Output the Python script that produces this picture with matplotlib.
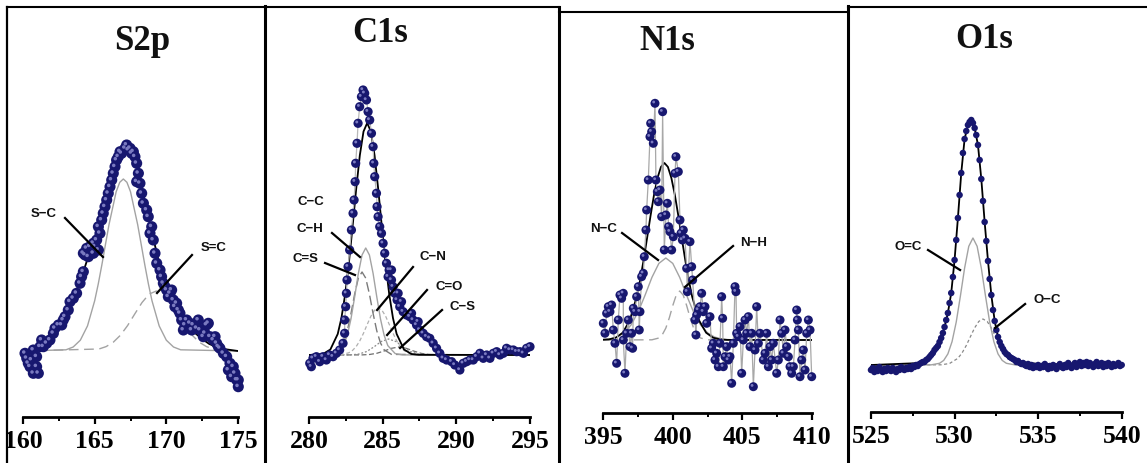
import numpy as np
import matplotlib
matplotlib.use("Agg")
import matplotlib.pyplot as plt
from matplotlib.lines import Line2D
from matplotlib.ticker import MultipleLocator
import matplotlib.transforms as mtransforms

# ---------------- data (binding energy in eV, intensity in a.u.) ----------------
titles = ["S2p", "C1s", "N1s", "O1s"]

# S2p
s2p_x = [160.14, 160.26, 160.37, 160.49, 160.60, 160.72, 160.72, 160.95, 160.95, 161.07,
         161.19, 161.30, 161.42, 161.65, 161.88, 162.12, 162.23, 162.47, 162.70, 162.81,
         162.93, 163.16, 163.28, 163.51, 163.74, 163.98, 164.09, 164.21, 164.21, 164.33,
         164.44, 164.56, 164.67, 164.91, 164.91, 165.02, 165.14, 165.26, 165.26, 165.37,
         165.49, 165.60, 165.72, 165.84, 165.95, 166.07, 166.19, 166.30, 166.42, 166.53,
         166.65, 166.77, 166.88, 167.12, 167.23, 167.35, 167.47, 167.58, 167.70, 167.81,
         167.93, 167.93, 168.05, 168.16, 168.28, 168.40, 168.63, 168.74, 168.86, 168.98,
         169.09, 169.21, 169.33, 169.56, 169.67, 169.79, 169.91, 170.02, 170.14, 170.26,
         170.37, 170.49, 170.60, 170.72, 170.84, 170.95, 171.07, 171.19, 171.30, 171.42,
         171.65, 171.77, 171.88, 172.12, 172.23, 172.35, 172.58, 172.70, 172.81, 172.93,
         173.05, 173.28, 173.40, 173.51, 173.63, 173.74, 173.98, 174.21, 174.33, 174.44,
         174.56, 174.67, 174.79, 174.91, 175.02, 175.02]
s2p_y = [-2.3, -7.3, -12.3, -15.7, -9.0, 1.0, -22.3, -15.7, -5.7, -22.3,
         4.3, 11.0, 4.3, 7.7, 11.0, 17.7, 22.7, 26.0, 26.0, 31.0,
         34.3, 41.0, 49.3, 52.7, 57.7, 67.7, 74.3, 79.3, 97.7, 96.0,
         102.7, 94.3, 104.3, 107.7, 97.7, 104.3, 111.0, 101.0, 124.3, 117.7,
         131.0, 137.7, 144.3, 151.0, 157.7, 164.3, 171.0, 177.7, 184.3, 191.0,
         194.3, 199.3, 197.7, 202.7, 206.0, 201.0, 202.7, 197.7, 199.3, 194.3,
         187.7, 169.3, 177.7, 167.7, 157.7, 147.7, 141.0, 134.3, 117.7, 124.3,
         111.0, 97.7, 87.7, 81.0, 74.3, 67.7, 64.3, 61.0, 54.3, 57.7,
         61.0, 51.0, 44.3, 47.7, 41.0, 37.7, 31.0, 21.0, 26.0, 31.0,
         27.7, 21.0, 26.0, 22.7, 31.0, 21.0, 14.3, 17.7, 26.0, 27.7,
         14.3, 11.0, 14.3, 7.7, 4.3, 2.7, -2.3, -5.7, -19.0, -12.3,
         -25.7, -15.7, -22.3, -29.0, -35.7, -29.0]
s2p_fit_x = [160.0, 161.0, 161.5, 162.0, 162.5, 163.0, 163.5, 164.0, 164.5, 165.0, 165.5,
             166.0, 166.5, 166.75, 167.0, 167.2, 167.5, 167.75, 168.0, 168.5, 169.0, 169.5,
             170.0, 170.5, 171.0, 171.5, 172.0, 172.5, 173.0, 173.5, 174.0, 174.5, 175.0]
s2p_fit_y = [0, 1, 4, 12, 24, 38, 53, 70, 92, 113, 137,
             163, 187, 195, 200, 201, 198, 191, 182, 150, 118, 88,
             65, 48, 36, 26, 18, 12, 7, 4, 2, 1, 0]
s2p_sc_x = [160, 163, 163.5, 164, 164.5, 165, 165.25, 165.5, 165.75, 166, 166.5, 166.75, 167,
            167.25, 167.5, 168, 168.25, 168.5, 168.75, 169, 169.5, 170, 170.5, 171, 175]
s2p_sc_y = [0, 1.2, 4.0, 10.8, 25.1, 50.2, 67, 86, 106.3, 126.4, 159.3, 168.7, 172,
            168.7, 159.3, 126.4, 106.3, 86, 67, 50.2, 25.1, 10.8, 4.0, 1.2, 0]
s2p_seqc_x = [160, 165.3, 165.8, 166.3, 166.8, 167.3, 167.8, 168.3, 168.8, 169.3, 169.8,
              170.3, 170.8, 171.3, 171.8, 172.3, 172.8, 173.3, 174.3, 175]
s2p_seqc_y = [0, 2.0, 4.4, 8.8, 15.8, 25.5, 37.1, 48.4, 56.9, 60, 56.9,
              48.4, 37.1, 25.5, 15.8, 8.8, 4.4, 2.0, 0.3, 0]

# C1s
c1s_x = [280.05, 280.16, 280.27, 280.50, 280.73, 280.95, 281.18, 281.40, 281.63, 281.86,
         282.08, 282.31, 282.42, 282.42, 282.49, 282.54, 282.58, 282.65, 282.76, 282.88,
         282.99, 283.06, 283.13, 283.17, 283.26, 283.33, 283.44, 283.56, 283.67, 283.78,
         283.90, 284.01, 284.12, 284.24, 284.35, 284.40, 284.46, 284.58, 284.62, 284.69,
         284.80, 284.92, 285.03, 285.14, 285.26, 285.37, 285.44, 285.60, 285.60, 285.71,
         285.82, 285.98, 286.05, 286.16, 286.28, 286.39, 286.62, 286.84, 286.96, 287.07,
         287.30, 287.41, 287.52, 287.75, 287.98, 288.20, 288.43, 288.66, 288.88, 289.11,
         289.34, 289.68, 289.90, 290.24, 290.47, 290.70, 290.92, 291.15, 291.38, 291.60,
         291.83, 292.06, 292.28, 292.51, 292.74, 292.96, 293.19, 293.41, 293.64, 293.87,
         294.09, 294.32, 294.55, 294.77, 295.00]
c1s_y = [-8.3, -11.7, -3.3, -1.7, -6.7, -1.7, -5.0, 0.0, -1.7, 1.7,
         5.0, 11.7, 21.7, 35.0, 48.3, 61.7, 75.0, 88.3, 105.0, 125.0,
         141.7, 155.0, 173.3, 191.7, 211.7, 231.7, 248.3, 258.3, 265.0, 261.7,
         255.0, 243.3, 235.0, 221.7, 208.3, 191.7, 178.3, 161.7, 148.3, 138.3,
         128.3, 121.7, 111.7, 101.7, 91.7, 78.3, 85.0, 75.0, 85.0, 68.3,
         61.7, 55.0, 61.7, 48.3, 53.3, 43.3, 40.0, 38.3, 41.7, 35.0,
         30.0, 33.3, 25.0, 21.7, 18.3, 16.7, 11.7, 6.7, 1.7, -3.3,
         -5.0, -6.7, -10.0, -15.0, -8.3, -6.7, -5.0, -5.0, -1.7, 1.7,
         -3.3, 0.0, -3.3, 1.7, 3.3, 0.0, 1.7, 6.7, 5.0, 5.0,
         3.3, 3.3, 1.7, 6.7, 8.3]
c1s_fit_x = [280, 280.95, 281.45, 281.95, 282.2, 282.45, 282.7, 282.95, 283.2, 283.45, 283.7,
             283.95, 284.2, 284.45, 284.7, 284.95, 285.2, 285.45, 285.7, 285.95, 286.45,
             286.95, 287.45, 295]
c1s_fit_y = [0, 1.0, 5.5, 21.0, 36.9, 60.2, 90.9, 127.3, 165.6, 199.7, 223.5,
             232, 223.5, 199.7, 165.6, 127.3, 90.9, 60.2, 36.9, 21.0, 5.5,
             1.0, 0.2, 0]
c1s_ch_x = [280, 281.85, 282.35, 282.6, 282.85, 283.1, 283.35, 283.6, 283.85, 284.1, 284.35,
            284.6, 284.85, 285.1, 285.35, 285.85, 286.35, 295]
c1s_ch_y = [0, 1.4, 9.4, 19.7, 36.2, 58.2, 81.6, 100, 107, 100, 81.6,
            58.2, 36.2, 19.7, 9.4, 1.4, 0.1, 0]
c1s_cs2_x = [280, 281.6, 282.1, 282.35, 282.6, 282.85, 283.1, 283.35, 283.6, 283.85, 284.1,
             284.35, 284.6, 284.85, 285.1, 285.6, 295]
c1s_cs2_y = [0, 0.6, 5.2, 12.1, 24.2, 41.5, 61, 76.9, 83, 76.9, 61,
             41.5, 24.2, 12.1, 5.2, 0.6, 0]
c1s_cn_x = [280, 282.2, 282.7, 282.95, 283.2, 283.45, 283.7, 283.95, 284.2, 284.45, 284.7,
            284.95, 285.2, 285.45, 285.7, 285.95, 286.2, 286.45, 286.7, 287.2, 295]
c1s_cn_y = [0, 0.4, 2.2, 4.5, 8.4, 14.2, 21.8, 30.5, 38.8, 44.8, 47,
            44.8, 38.8, 30.5, 21.8, 14.2, 8.4, 4.5, 2.2, 0.4, 0]
c1s_co_x = [280, 282.9, 283.4, 283.9, 284.4, 284.9, 285.4, 285.9, 286.4, 286.9, 287.4, 287.9, 295]
c1s_co_y = [0, 0.2, 1, 3.4, 8, 13.5, 16, 13.5, 8, 3.4, 1, 0.2, 0]
c1s_cs_x = [280, 283.6, 284.1, 284.6, 285.1, 285.6, 286.1, 286.6, 287.1, 287.6, 288.1, 288.6, 295]
c1s_cs_y = [0, 0.1, 0.5, 1.7, 4, 6.7, 8, 6.7, 4, 1.7, 0.5, 0.1, 0]

# N1s
n1s_x = [395.00, 395.12, 395.24, 395.36, 395.48, 395.60, 395.72, 395.84, 395.96, 396.08,
         396.20, 396.32, 396.44, 396.44, 396.56, 396.68, 396.80, 396.92, 397.04, 397.11,
         397.16, 397.28, 397.40, 397.52, 397.59, 397.64, 397.76, 397.88, 397.95, 398.07,
         398.12, 398.24, 398.36, 398.41, 398.48, 398.60, 398.72, 398.79, 398.89, 398.96,
         399.08, 399.20, 399.27, 399.39, 399.51, 399.61, 399.70, 399.80, 399.92, 400.04,
         400.16, 400.23, 400.40, 400.52, 400.59, 400.69, 400.76, 400.88, 401.00, 401.05,
         401.24, 401.36, 401.43, 401.60, 401.67, 401.72, 401.84, 401.96, 402.08, 402.20,
         402.32, 402.44, 402.68, 402.80, 402.92, 403.04, 403.16, 403.28, 403.40, 403.52,
         403.59, 403.64, 403.76, 403.88, 404.00, 404.12, 404.24, 404.36, 404.48, 404.55,
         404.60, 404.72, 404.84, 404.96, 405.08, 405.20, 405.32, 405.44, 405.56, 405.68,
         405.80, 405.92, 406.04, 406.16, 406.28, 406.52, 406.64, 406.76, 406.88, 407.00,
         407.12, 407.24, 407.48, 407.60, 407.72, 407.84, 407.96, 408.08, 408.20, 408.32,
         408.44, 408.56, 408.68, 408.80, 408.92, 408.97, 409.04, 409.16, 409.28, 409.40,
         409.52, 409.64, 409.76, 409.88, 410.00]
n1s_y = [16.7, 6.7, 26.7, 33.3, 28.3, 35.0, 10.0, -3.3, -23.3, 20.0,
         45.0, 41.7, 46.7, 0.0, -33.3, 6.7, 20.0, -6.7, 6.7, -8.3,
         31.7, 28.3, 43.3, 53.3, 10.0, 28.3, 63.3, 66.7, 83.3, 110.0,
         130.0, 160.0, 203.3, 216.7, 208.3, 196.7, 236.7, 160.0, 148.3, 138.3,
         150.0, 123.3, 228.3, 90.0, 125.0, 136.7, 113.3, 108.3, 90.0, 103.3,
         166.7, 183.3, 168.3, 120.0, 106.7, 100.0, 110.0, 101.7, 71.7, 48.3,
         98.3, 73.3, 60.0, 20.0, 5.0, 25.0, 30.0, 33.3, 46.7, 28.3,
         33.3, 16.7, 23.3, -8.3, -3.3, -20.0, -13.3, -26.7, -3.3, 43.3,
         21.7, -26.7, -16.7, -6.7, -20.0, -16.7, -43.3, -3.3, 53.3, 48.3,
         6.7, 3.3, 13.3, -33.3, 0.0, 20.0, 6.7, 23.3, -6.7, 6.7,
         -46.7, -10.0, 33.3, -3.3, 6.7, -20.0, -13.3, 6.7, -26.7, -6.7,
         -20.0, -3.3, -33.3, -20.0, 20.0, 6.7, -13.3, 10.0, -6.7, -16.7,
         -26.7, -33.3, -26.7, 0.0, 30.0, 20.0, 10.0, -36.7, -20.0, -10.0,
         -30.0, 6.7, 20.0, 10.0, -36.7]
n1s_fit_x = [395, 395.4, 395.9, 396.4, 396.9, 397.4, 397.65, 397.9, 398.15, 398.4, 398.65,
             398.9, 399.15, 399.4, 399.65, 399.9, 400.15, 400.4, 400.65, 400.9, 401.15,
             401.4, 401.9, 402.4, 402.9, 403.4, 403.9, 410]
n1s_fit_y = [0.3, 0.6, 2.3, 7.3, 19.4, 43, 59.9, 79.8, 101.8, 124.2, 145.1,
             162, 173.1, 177, 173.1, 162, 145.1, 124.2, 101.8, 79.8, 59.9,
             43, 19.4, 7.3, 2.3, 0.6, 0.1, 0]
n1s_nc_x = [395, 395.5, 396, 396.5, 397, 397.5, 398, 398.5, 399, 399.5, 400,
            400.5, 401, 401.5, 402, 402.5, 403, 403.5, 404, 404.5, 410]
n1s_nc_y = [0.4, 1.1, 3.0, 7.2, 15.1, 27.8, 44.6, 62.6, 76.6, 82, 76.6,
            62.6, 44.6, 27.8, 15.1, 7.2, 3.0, 1.1, 0.4, 0.1, 0]
n1s_nh_x = [395, 398.5, 399, 399.25, 399.5, 399.75, 400, 400.25, 400.5, 400.75, 401,
            401.25, 401.5, 401.75, 402, 402.5, 410]
n1s_nh_y = [0, 0.2, 2.0, 5.4, 11.9, 22.1, 34.4, 44.9, 49, 44.9, 34.4,
            22.1, 11.9, 5.4, 2.0, 0.2, 0]

# O1s (0.1 eV steps)
o1s_x = [525.0, 525.1, 525.2, 525.3, 525.4, 525.5, 525.6, 525.7, 525.8, 525.9,
         526.0, 526.1, 526.2, 526.3, 526.4, 526.5, 526.6, 526.7, 526.8, 526.9,
         527.0, 527.1, 527.2, 527.3, 527.4, 527.5, 527.6, 527.7, 527.8, 527.9,
         528.0, 528.1, 528.2, 528.3, 528.4, 528.5, 528.6, 528.7, 528.8, 528.9,
         529.0, 529.1, 529.2, 529.3, 529.4, 529.5, 529.6, 529.7, 529.8, 529.9,
         530.0, 530.1, 530.2, 530.3, 530.4, 530.5, 530.6, 530.7, 530.8, 530.9,
         531.0, 531.1, 531.2, 531.3, 531.4, 531.5, 531.6, 531.7, 531.8, 531.9,
         532.0, 532.1, 532.2, 532.3, 532.4, 532.5, 532.6, 532.7, 532.8, 532.9,
         533.0, 533.1, 533.2, 533.3, 533.4, 533.5, 533.6, 533.7, 533.8, 533.9,
         534.0, 534.1, 534.2, 534.3, 534.4, 534.5, 534.6, 534.7, 534.8, 534.9,
         535.0, 535.1, 535.2, 535.3, 535.4, 535.5, 535.6, 535.7, 535.8, 535.9,
         536.0, 536.1, 536.2, 536.3, 536.4, 536.5, 536.6, 536.7, 536.8, 536.9,
         537.0, 537.1, 537.2, 537.3, 537.4, 537.5, 537.6, 537.7, 537.8, 537.9,
         538.0, 538.1, 538.2, 538.3, 538.4, 538.5, 538.6, 538.7, 538.8, 538.9,
         539.0, 539.1, 539.2, 539.3, 539.4, 539.5, 539.6, 539.7, 539.8, 539.9,
         540.0]
o1s_y = [-5, -3, -7, -4, -6, -2, -5, -7, -4, -6,
         -3, -5, -6, -3, -5, -7, -4, -5, -2, -4,
         -5, -3, -4, -2, -4, -1, -2, 0, -1, 1,
         2, 3, 3, 5, 6, 8, 10, 12, 15, 17,
         19, 23, 27, 32, 38, 45, 52, 62, 72, 88,
         105, 125, 147, 170, 192, 212, 226, 234, 240, 243,
         245, 242, 237, 230, 220, 205, 186, 164, 143, 124,
         104, 86, 70, 55, 44, 35, 28, 23, 19, 16,
         13, 11, 10, 8, 7, 6, 5, 3, 4, 2,
         1, 2, 0, -1, 1, -2, 0, -3, -1, -2,
         0, -3, -1, -2, 1, -2, -4, -1, -3, 0,
         -2, -4, -1, 1, -2, -3, 0, -2, 2, -1,
         -3, 0, 2, -2, 1, 3, -1, 2, 0, 3,
         -1, 2, 0, -2, 1, 3, -1, 0, 2, -2,
         1, -1, 2, 0, -2, 1, -1, 0, 2, -1,
         0]
o1s_fit_x = [525, 528.0, 528.3, 528.6, 528.9, 529.2, 529.4, 529.6, 529.8, 530.0, 530.2,
             530.4, 530.6, 530.8, 531.0, 531.2, 531.4, 531.6, 531.8, 532.0, 532.2,
             532.4, 532.6, 532.8, 533.0, 533.3, 533.6, 534.0, 535.0, 540]
o1s_fit_y = [0, 2, 5, 11, 17, 27, 38, 52, 72, 105, 147,
             192, 226, 240, 244, 237, 220, 186, 143, 104, 70,
             44, 28, 19, 13, 9, 6, 3, 1, 0]
o1s_oc2_x = [525, 528.6, 529.1, 529.35, 529.6, 529.85, 530.1, 530.35, 530.6, 530.85, 531.1,
             531.35, 531.6, 531.85, 532.1, 532.35, 532.6, 532.85, 533.1, 533.6, 540]
o1s_oc2_y = [0, 0.15, 1.7, 4.6, 11.1, 23.4, 43, 69.1, 96.9, 118.7, 127,
             118.7, 96.9, 69.1, 43, 23.4, 11.1, 4.6, 1.7, 0.15, 0]
o1s_oc_x = [525, 529.2, 529.7, 530.2, 530.45, 530.7, 530.95, 531.2, 531.45, 531.7, 531.95,
            532.2, 532.45, 532.7, 532.95, 533.2, 533.7, 534.2, 540]
o1s_oc_y = [0, 0.2, 1.5, 6.7, 12.1, 19.5, 28.4, 37.1, 43.6, 46, 43.6,
            37.1, 28.4, 19.5, 12.1, 6.7, 1.5, 0.2, 0]

tick_major = 5
tick_minor = 2.5

# ---------------- figure ----------------
W, H = 1147, 463
fig = plt.figure(figsize=(W / 100, H / 100), dpi=100)
fig.patch.set_facecolor("white")

def fx(px):
    return px / W

def fy(py):
    return 1 - py / H

def seg(x0, y0, x1, y1, lw):
    fig.add_artist(Line2D([fx(x0), fx(x1)], [fy(y0), fy(y1)], transform=fig.transFigure,
                          color="black", lw=lw, solid_capstyle="projecting"))

# panel frames
seg(7.5, 7, 7.5, 463, 1.6)
seg(7.5, 7, 264.5, 7, 1.5)
seg(264.5, 6, 264.5, 463, 2.2)
seg(264.5, 6.5, 558.5, 6.5, 1.5)
seg(558.5, 6.5, 558.5, 463, 2.2)
seg(558.5, 12, 847.5, 12, 1.5)
seg(847.5, 6, 847.5, 463, 2.2)
seg(847.5, 6.5, 1147, 6.5, 1.5)

SERIF = ["Liberation Serif", "DejaVu Serif"]
SANS = ["Liberation Sans", "DejaVu Sans"]
DOT = "#17176f"
HL = "#7a7ac0"
GRAY = "#a3a3a3"

def make_axes(px0, px1, axis_py, base_py, top_py, xlim):
    ax = fig.add_axes([fx(px0), fy(axis_py), (px1 - px0) / W, (axis_py - top_py) / H])
    ax.set_xlim(*xlim)
    ax.set_ylim(-(axis_py - base_py), base_py - top_py)
    for s in ("left", "right", "top"):
        ax.spines[s].set_visible(False)
    ax.spines["bottom"].set_linewidth(2.0)
    ax.set_yticks([])
    ax.xaxis.set_major_locator(MultipleLocator(tick_major))
    ax.xaxis.set_minor_locator(MultipleLocator(tick_minor))
    ax.tick_params(axis="x", which="major", direction="out", length=5, width=1.6, pad=4.5,
                   labelsize=18.5)
    ax.tick_params(axis="x", which="minor", direction="out", length=3, width=1.4)
    for lab in ax.get_xticklabels():
        lab.set_fontfamily(SERIF)
        lab.set_fontweight("bold")
    ax.patch.set_alpha(0)
    return ax

def points(ax, x, y, size, line=None, hl=True):
    order = np.argsort(x, kind="stable")
    xs = np.asarray(x)[order]
    ys = np.asarray(y)[order]
    if line is not None:
        ax.plot(xs, ys, color=line, lw=0.9, zorder=2.6, clip_on=False)
    ax.scatter(xs, ys, s=size, c=DOT, edgecolors="none", zorder=3, clip_on=False)
    if hl:
        off = mtransforms.offset_copy(ax.transData, fig=fig, x=-1.3, y=1.3, units="dots")
        ax.scatter(xs, ys, s=size * 0.1, c=HL, edgecolors="none", zorder=3.1,
                   transform=off, clip_on=False)

def label(ax, text, xy, p0=None, p1=None):
    ax.text(xy[0], xy[1], text, ha="center", va="center", fontsize=9.5, fontweight="bold",
            family=SANS, color="#111111", zorder=6)
    if p0 is not None:
        ax.plot([p0[0], p1[0]], [p0[1], p1[1]], color="black", lw=1.6, zorder=6, clip_on=False)

# ---- S2p ----
ax1 = make_axes(23, 238, 417, 351, 80, (160, 175))
ax1.plot(s2p_sc_x, s2p_sc_y, color=GRAY, lw=1.0, zorder=2)
ax1.plot(s2p_seqc_x, s2p_seqc_y, color=GRAY, lw=1.0, ls=(0, (7, 4)), zorder=2)
ax1.plot(s2p_fit_x, s2p_fit_y, color="black", lw=1.3, zorder=2.5)
points(ax1, s2p_x, s2p_y, 64)
label(ax1, "S\u2212C", (161.47, 137), (162.93, 133), (165.58, 94))
label(ax1, "S=C", (173.29, 103), (171.79, 96), (169.35, 58))

# ---- C1s ----
ax2 = make_axes(309, 530, 417, 355, 80, (280, 295))
ax2.plot(c1s_cs_x, c1s_cs_y, color="#6e6e6e", lw=0.9, ls=(0, (4, 2)), zorder=2)
ax2.plot(c1s_co_x, c1s_co_y, color="#8a8a8a", lw=0.9, ls=(0, (1.5, 1.5)), zorder=2)
ax2.plot(c1s_cn_x, c1s_cn_y, color="#b0b0b0", lw=0.9, ls=(0, (3, 2)), zorder=2)
ax2.plot(c1s_cs2_x, c1s_cs2_y, color="#7a7a7a", lw=1.0, ls=(0, (7, 3)), zorder=2)
ax2.plot(c1s_ch_x, c1s_ch_y, color=GRAY, lw=1.0, zorder=2)
ax2.plot(c1s_fit_x, c1s_fit_y, color="black", lw=1.3, zorder=2.5)
points(ax2, c1s_x, c1s_y, 44, line="#b8b8b8")
label(ax2, "C\u2212C", (280.10, 153))
label(ax2, "C\u2212H", (280.07, 125.5), (281.56, 122), (283.46, 98))
label(ax2, "C=S", (279.76, 96), (281.09, 92), (283.12, 80))
label(ax2, "C\u2212N", (288.42, 98.5), (287.06, 88), (284.62, 45))
label(ax2, "C=O", (289.50, 67.5), (288.01, 65), (285.30, 20))
label(ax2, "C\u2212S", (290.42, 47.5), (289.03, 45), (286.18, 7))

# ---- N1s ----
ax3 = make_axes(603.3, 811.7, 413, 340, 80, (395, 410))
ax3.plot(n1s_nh_x, n1s_nh_y, color=GRAY, lw=1.0, ls=(0, (7, 4)), zorder=2)
ax3.plot(n1s_nc_x, n1s_nc_y, color=GRAY, lw=1.0, zorder=2)
ax3.plot(n1s_fit_x, n1s_fit_y, color="black", lw=1.3, zorder=2.5)
points(ax3, n1s_x, n1s_y, 42, line="#a8a8a8")
label(ax3, "N\u2212C", (394.99, 110.5), (396.35, 107), (398.94, 80))
label(ax3, "N\u2212H", (405.78, 97.5), (404.34, 94), (400.88, 53))

# ---- O1s ----
ax4 = make_axes(871, 1121.7, 412, 365, 80, (525, 540))
ax4.plot(o1s_oc_x, o1s_oc_y, color="#8a8a8a", lw=0.9, ls=(0, (2.5, 2)), zorder=2)
ax4.plot(o1s_oc2_x, o1s_oc2_y, color=GRAY, lw=1.0, zorder=2)
ax4.plot(o1s_fit_x, o1s_fit_y, color="black", lw=1.3, zorder=2.5)
points(ax4, o1s_x, o1s_y, 22, hl=False)
label(ax4, "O=C", (527.24, 117.5), (528.41, 115), (530.33, 95))
label(ax4, "O\u2212C", (535.56, 65), (534.22, 61), (532.42, 37))

# titles
for t, cx, by in zip(titles, [142, 380, 667, 984], [50, 42, 50, 48]):
    fig.text(fx(cx), fy(by), t, ha="center", va="baseline", fontsize=25, fontweight="bold",
             family=SERIF, color="#111111")

fig.savefig("out.png", dpi=100, facecolor="white")
